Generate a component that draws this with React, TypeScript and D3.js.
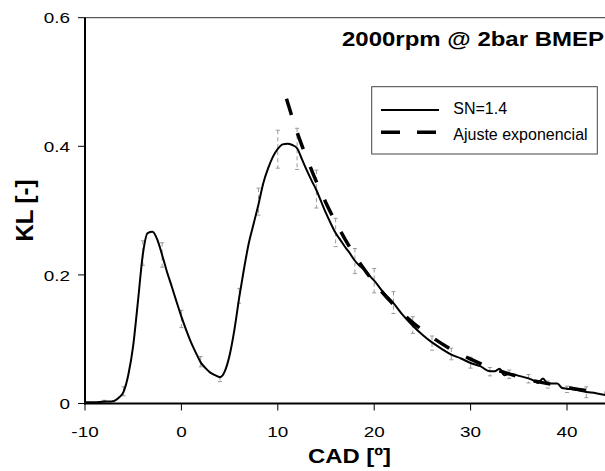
import React from "react";
import * as d3 from "d3";

// ---- data ----
const lineX = [-10, -9, -8, -7.5, -7, -6.5, -6, -5.5, -5, -4.5, -4, -3.5, -3, -2.5, -2, -1.5, -1, -0.5, 0, 0.5, 1, 1.5, 2, 2.5, 3, 3.5, 4, 4.5, 5, 5.5, 6, 6.5, 7, 7.5, 8, 8.5, 9, 9.5, 10, 10.5, 11, 11.5, 12, 12.5, 13, 13.5, 14, 14.5, 15, 15.5, 16, 16.5, 17, 17.5, 18, 18.5, 19, 19.5, 20, 21, 22, 23, 24, 25, 26, 27, 28, 29, 30, 31, 32, 32.5, 33, 33.5, 34, 34.5, 35, 36, 36.5, 37, 37.5, 38, 39, 39.5, 40, 41, 42, 43, 44];
const lineY = [0.002, 0.002, 0.003, 0.003, 0.004, 0.009, 0.018, 0.045, 0.09, 0.16, 0.232, 0.265, 0.267, 0.255, 0.231, 0.205, 0.182, 0.158, 0.135, 0.114, 0.095, 0.079, 0.064, 0.055, 0.048, 0.044, 0.041, 0.05, 0.075, 0.115, 0.165, 0.21, 0.25, 0.28, 0.31, 0.343, 0.366, 0.384, 0.396, 0.403, 0.404, 0.402, 0.397, 0.38, 0.363, 0.347, 0.332, 0.314, 0.296, 0.28, 0.265, 0.254, 0.243, 0.233, 0.222, 0.214, 0.208, 0.199, 0.191, 0.172, 0.156, 0.137, 0.121, 0.107, 0.095, 0.085, 0.076, 0.07, 0.063, 0.058, 0.05, 0.05, 0.054, 0.044, 0.046, 0.045, 0.043, 0.039, 0.036, 0.032, 0.039, 0.031, 0.031, 0.024, 0.023, 0.021, 0.018, 0.016, 0.013];

const fitX = [10.9, 12, 13, 14, 15, 16, 17, 18, 19, 20, 22, 24, 26, 28, 30, 32, 34, 36, 38, 40, 42, 44];
const fitY = [0.474, 0.422, 0.382, 0.345, 0.312, 0.282, 0.255, 0.23, 0.208, 0.188, 0.154, 0.126, 0.103, 0.084, 0.069, 0.056, 0.046, 0.037, 0.031, 0.025, 0.02, 0.017];

const errX = [-8, -6, -4, -2, 0, 2, 4, 6, 8, 10, 12, 14, 16, 18, 20, 22, 24, 26, 28, 30, 32, 34, 36, 38, 40, 42];
const errLo = [0.001, 0.012, 0.215, 0.212, 0.118, 0.057, 0.034, 0.156, 0.293, 0.366, 0.364, 0.304, 0.244, 0.202, 0.172, 0.14, 0.109, 0.083, 0.068, 0.055, 0.043, 0.039, 0.032, 0.024, 0.017, 0.009];
const errHi = [0.005, 0.026, 0.253, 0.25, 0.145, 0.073, 0.042, 0.179, 0.335, 0.425, 0.428, 0.363, 0.288, 0.241, 0.21, 0.174, 0.135, 0.105, 0.086, 0.072, 0.056, 0.052, 0.045, 0.035, 0.027, 0.026];

const xTicks = [-10, 0, 10, 20, 30, 40];
const yTicks = [0, 0.2, 0.4, 0.6];

const title = "2000rpm @ 2bar BMEP";
const xLabel = "CAD [º]";
const yLabel = "KL [-]";
const legendLabels = ["SN=1.4", "Ajuste exponencial"];

const W = 605;
const H = 471;
const FONT = "'Liberation Sans', Arial, Helvetica, sans-serif";

export default function App() {
  const x = d3.scaleLinear().domain([-10, 40]).range([85, 567]);
  const y = d3.scaleLinear().domain([0, 0.6]).range([403.5, 17.7]);
  const left = x(-10);
  const top = y(0.6);
  const bottom = y(0);

  const line = d3
    .line<number>()
    .x((_, i) => x(lineX[i]))
    .y((d) => y(d))
    .curve(d3.curveMonotoneX);
  const fit = d3
    .line<number>()
    .x((_, i) => x(fitX[i]))
    .y((d) => y(d))
    .curve(d3.curveMonotoneX);

  const tickFmt = (v: number) => (v === 0 ? "0" : d3.format(".1f")(v));

  return (
    <svg
      width={W}
      height={H}
      style={{ position: "absolute", left: 0, top: 0, background: "#fff" }}
      fontFamily={FONT}
    >
      <defs>
        <clipPath id="plot">
          <rect x={left} y={top} width={W - left} height={bottom - top} />
        </clipPath>
      </defs>
      <rect x={0} y={0} width={W} height={H} fill="#fff" />

      {/* top frame */}
      <line x1={left} x2={W} y1={top} y2={top} stroke="#333" strokeWidth={1} />

      <g clipPath="url(#plot)">
        {/* error bars */}
        {errX.map((ex, i) => {
          const cx = x(ex);
          const y1 = y(errHi[i]);
          const y2 = y(errLo[i]);
          return (
            <g key={i} stroke="#9a9a9a" strokeWidth={1}>
              <line x1={cx} x2={cx} y1={y1} y2={y2} strokeDasharray="4 3" />
              <line x1={cx - 2} x2={cx + 2} y1={y1} y2={y1} />
              <line x1={cx - 2} x2={cx + 2} y1={y2} y2={y2} />
            </g>
          );
        })}
        <path d={line(lineY) || ""} fill="none" stroke="#000" strokeWidth={2} />
        <path
          d={fit(fitY) || ""}
          fill="none"
          stroke="#000"
          strokeWidth={3.5}
          strokeDasharray="17 19"
        />
      </g>

      {/* axes */}
      <line x1={left} x2={left} y1={top} y2={bottom + 1} stroke="#000" strokeWidth={2} />
      <line x1={left - 1} x2={W} y1={bottom} y2={bottom} stroke="#000" strokeWidth={2} />

      {yTicks.map((t) => (
        <g key={"y" + t}>
          <line x1={left - 7} x2={left} y1={y(t)} y2={y(t)} stroke="#000" strokeWidth={1} />
          <text
            transform={`translate(70,${y(t) + 5.6}) scale(1.22,1)`}
            textAnchor="end"
            fontSize={15.5}
            fill="#000"
          >
            {tickFmt(t)}
          </text>
        </g>
      ))}
      {xTicks.map((t) => (
        <g key={"x" + t}>
          <line x1={x(t)} x2={x(t)} y1={bottom} y2={bottom + 7} stroke="#000" strokeWidth={1} />
          <text
            transform={`translate(${x(t)},437) scale(1.22,1)`}
            textAnchor="middle"
            fontSize={15.5}
            fill="#000"
          >
            {t}
          </text>
        </g>
      ))}

      {/* axis titles */}
      <text x={308} y={463} fontSize={21} fontWeight="bold" textLength={83} lengthAdjust="spacingAndGlyphs">
        {xLabel}
      </text>
      <text
        transform={`translate(33,${(top + bottom) / 2}) rotate(-90)`}
        textAnchor="middle"
        fontSize={23}
        fontWeight="bold"
        textLength={62}
        lengthAdjust="spacingAndGlyphs"
      >
        {yLabel}
      </text>

      {/* title */}
      <text x={342} y={46} fontSize={21} fontWeight="bold" textLength={262} lengthAdjust="spacingAndGlyphs">
        {title}
      </text>

      {/* legend */}
      <rect x={371.7} y={86.7} width={225.6} height={67.3} fill="#fff" stroke="#444" strokeWidth={1} />
      <line x1={381} x2={439} y1={110} y2={110} stroke="#000" strokeWidth={2} />
      <text x={453.3} y={114.3} fontSize={16}>
        {legendLabels[0]}
      </text>
      <line x1={381} x2={439} y1={132.3} y2={132.3} stroke="#000" strokeWidth={3.5} strokeDasharray="19 17" />
      <text x={453.3} y={140} fontSize={16}>
        {legendLabels[1]}
      </text>
    </svg>
  );
}
